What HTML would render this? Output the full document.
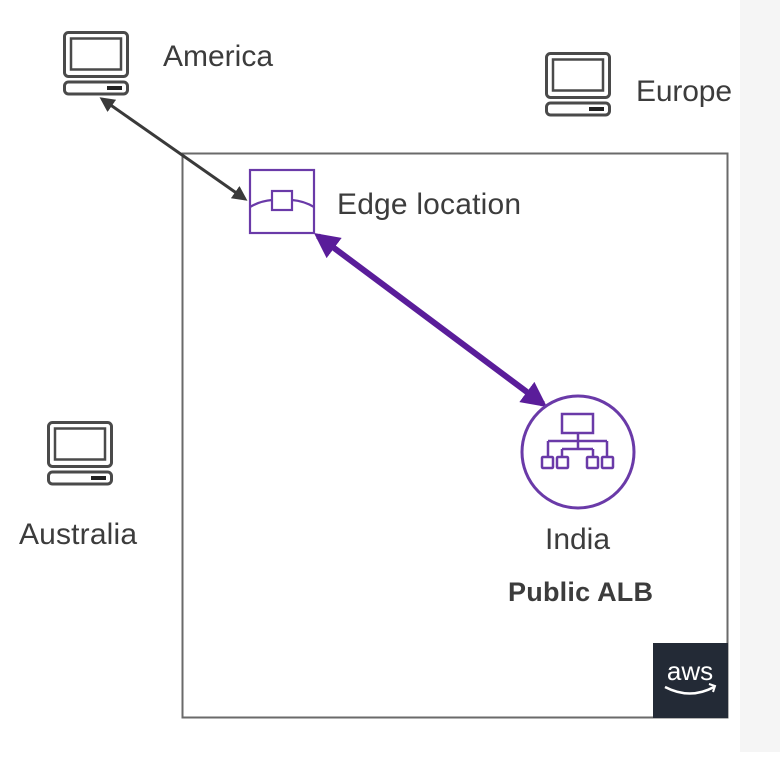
<!DOCTYPE html>
<html><head><meta charset="utf-8"><style>
body{margin:0;width:780px;height:752px;overflow:hidden;background:#fff;font-family:"Liberation Sans",sans-serif}
</style></head><body>
<svg width="780" height="752" viewBox="0 0 780 752" xmlns="http://www.w3.org/2000/svg">
<defs>
<g id="pc" fill="none" stroke="#4a4a4a">
<rect x="1.5" y="1.5" width="63" height="44" rx="4" stroke-width="3"/>
<rect x="8" y="7.5" width="50" height="31" stroke-width="2.5"/>
<rect x="1.5" y="51" width="63" height="12" rx="4" stroke-width="3"/>
<rect x="44" y="55" width="15" height="4" fill="#222" stroke="none"/>
</g>
<marker id="ab" viewBox="0 0 10 10" refX="8" refY="5" markerWidth="5" markerHeight="5" orient="auto-start-reverse"><path d="M0,0 L10,5 L0,10 z" fill="#3a3a3a"/></marker>
<marker id="ap" viewBox="0 0 10 10" refX="8" refY="5" markerWidth="4.2" markerHeight="4.2" orient="auto-start-reverse"><path d="M0,0 L10,5 L0,10 z" fill="#5a1d9a"/></marker>
</defs>
<rect x="740" y="0" width="40" height="752" fill="#f5f5f5"/>
<rect x="182.5" y="153.5" width="545" height="564" fill="#fff" stroke="#6a6a6a" stroke-width="2"/>
<rect x="653" y="643" width="75" height="75" fill="#232a36"/>
<text x="690" y="680" font-size="26" fill="#fff" text-anchor="middle">aws</text>
<path d="M665,687 Q690,700 714,687" fill="none" stroke="#fff" stroke-width="2.5"/>
<path d="M709,684 L715,686 L713,692" fill="none" stroke="#fff" stroke-width="2"/>
<use href="#pc" x="63" y="31"/>
<use href="#pc" x="545" y="52"/>
<use href="#pc" x="47" y="421"/>
<g fill="#3c3c3c" font-size="30">
<text x="163" y="66" textLength="110">America</text>
<text x="636" y="101" textLength="96">Europe</text>
<text x="19" y="544" textLength="118">Australia</text>
<text x="337" y="214" textLength="184">Edge location</text>
<text x="545" y="549" textLength="65">India</text>
<text x="508" y="601" font-size="27" font-weight="bold" textLength="145">Public ALB</text>
</g>
<line x1="102" y1="99" x2="245" y2="199" stroke="#3a3a3a" stroke-width="3" marker-start="url(#ab)" marker-end="url(#ab)"/>
<line x1="318" y1="236" x2="543" y2="404" stroke="#5a1d9a" stroke-width="6" marker-start="url(#ap)" marker-end="url(#ap)"/>
<g fill="none" stroke="#6a3aa8" stroke-width="2.2">
<rect x="250" y="170" width="64" height="63"/>
<rect x="272" y="191" width="20" height="19"/>
<path d="M250,207 Q260,201 272,200 M292,200 Q304,201 314,207"/>
<circle cx="578" cy="452" r="56" stroke-width="3"/>
<rect x="562" y="414" width="31" height="19" stroke-width="2.5"/>
<path d="M578,433 V441 M548,441 H607 M548,441 V457 M578,441 V449 M562,449 H593 M562,449 V457 M593,449 V457 M607,441 V457" stroke-width="2.5"/>
<rect x="542" y="457" width="11" height="11" rx="1" stroke-width="2.5"/><rect x="557" y="457" width="11" height="11" rx="1" stroke-width="2.5"/>
<rect x="587" y="457" width="11" height="11" rx="1" stroke-width="2.5"/><rect x="602" y="457" width="11" height="11" rx="1" stroke-width="2.5"/>
</g>
</svg>
</body></html>
